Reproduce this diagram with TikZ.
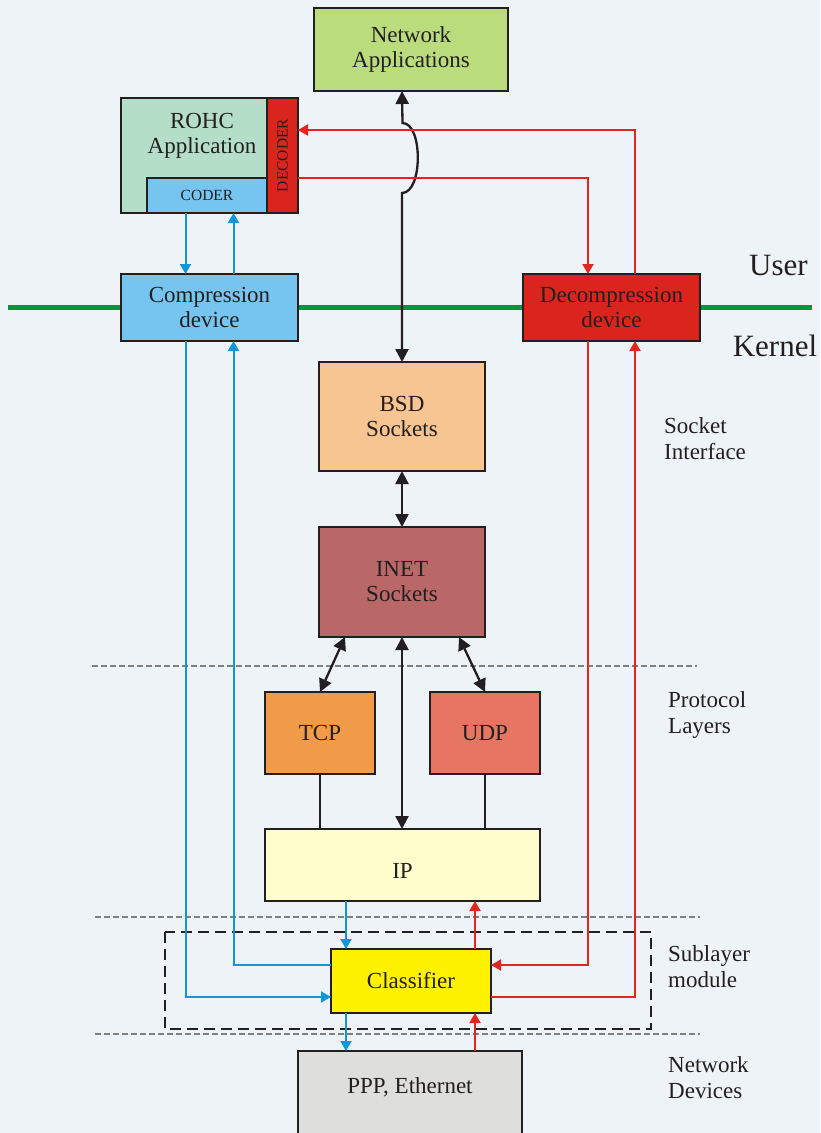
\documentclass[tikz,border=0pt]{standalone}
\usepackage{fontspec}
\setmainfont{Liberation Serif}
\usepackage{graphicx}
\usetikzlibrary{arrows.meta,calc}
\definecolor{ink}{HTML}{231F20}
\definecolor{bgc}{HTML}{EEF3F7}
\definecolor{nagreen}{HTML}{BBDC7C}
\definecolor{rohcgreen}{HTML}{B5DEC9}
\definecolor{lblue}{HTML}{76C5F0}
\definecolor{dred}{HTML}{DA251D}
\definecolor{bsdc}{HTML}{F6C592}
\definecolor{inetc}{HTML}{B96767}
\definecolor{tcpc}{HTML}{F09B47}
\definecolor{udpc}{HTML}{E67661}
\definecolor{ipc}{HTML}{FFFDCC}
\definecolor{clsc}{HTML}{FFF200}
\definecolor{pppc}{HTML}{DEDEDC}
\definecolor{linkblue}{HTML}{1296D9}
\definecolor{linkred}{HTML}{E2261D}
\definecolor{ugreen}{HTML}{00953F}
\definecolor{dashgray}{HTML}{808080}
\begin{document}
\begin{tikzpicture}[x=1pt,y=-1pt,
  box/.style={draw=ink, line width=1.6pt, inner sep=0pt, outer sep=0pt, align=center, text=ink, font=\fontsize{23}{25}\selectfont},
  bk/.style={draw=ink, line width=2.3pt, {Triangle[length=13pt,width=13pt]}-{Triangle[length=13pt,width=13pt]}},
  thin/.style={draw=ink, line width=1.3pt},
  bl/.style={draw=linkblue, line width=2pt, -{Triangle[length=10pt,width=11pt]}},
  rd/.style={draw=linkred, line width=2pt, -{Triangle[length=10pt,width=11pt]}},
  lab/.style={align=left, text=ink, inner sep=0pt, font=\fontsize{23}{26}\selectfont},
  sep/.style={draw=dashgray, line width=1.3pt, dash pattern=on 6pt off 3pt},
]
\fill[bgc] (0,0) rectangle (820,1133);
\useasboundingbox (0,0) rectangle (820,1133);

% user/kernel line
\draw[ugreen, line width=5pt] (8,307) -- (812,307);
\node[lab, font=\fontsize{31}{34}\selectfont] (user) at (778.5,265) {User};
\node[lab, font=\fontsize{31}{34}\selectfont] (kernel) at (775,346) {Kernel};

% separators
\draw[sep] (92,666) -- (697,666);
\draw[sep] (95,917) -- (700,917);
\draw[sep] (95,1034) -- (700,1034);
\draw[ink, line width=2pt, dash pattern=on 11pt off 6pt] (165,932) rectangle (651,1029);

% boxes
\node[box, fill=nagreen, minimum width=194pt, minimum height=83pt] (na) at (411,49.5) {Network\\Applications};
\node[box, fill=rohcgreen, minimum width=177pt, minimum height=115pt] (rohc) at (209.5,155.5) {};
\node[text=ink, align=center, inner sep=0pt, font=\fontsize{23}{25}\selectfont] (rohctext) at (202,136) {ROHC\\Application};
\node[box, fill=dred, minimum width=31pt, minimum height=115pt] (decoder) at (282.5,155.5) {\rotatebox{90}{\fontsize{15.5}{17}\selectfont DECODER}};
\node[box, fill=lblue, minimum width=120pt, minimum height=35pt, font=\fontsize{15.5}{17}\selectfont] (coder) at (207,195.5) {CODER};
\node[box, fill=lblue, minimum width=177pt, minimum height=67pt] (comp) at (209.5,307.5) {Compression\\device};
\node[box, fill=dred, minimum width=177pt, minimum height=67pt] (dec) at (611.5,307.5) {Decompression\\device};
\node[box, fill=bsdc, minimum width=166pt, minimum height=109pt] (bsd) at (402,416.5) {BSD\\Sockets};
\node[box, fill=inetc, minimum width=166pt, minimum height=110pt] (inet) at (402,582) {INET\\Sockets};
\node[box, fill=tcpc, minimum width=110pt, minimum height=82pt] (tcp) at (320,733) {TCP};
\node[box, fill=udpc, minimum width=110pt, minimum height=82pt] (udp) at (485,733) {UDP};
\node[box, fill=ipc, minimum width=275pt, minimum height=72pt, text height=26pt, text depth=0pt] (ip) at (402.5,865) {IP};
\node[box, fill=clsc, minimum width=160pt, minimum height=64pt] (cls) at (411,981) {Classifier};
\node[box, fill=pppc, minimum width=224pt, minimum height=92pt,
  label={[text=ink, font=\fontsize{23}{25}\selectfont, yshift=10pt]center:PPP, Ethernet}] (ppp) at (410,1097) {};

% right labels
\node[lab, anchor=west] (l1) at (664,439) {Socket\\Interface};
\node[lab, anchor=west] (l2) at (668,715) {Protocol\\Layers};
\node[lab, anchor=west] (l3) at (668,967) {Sublayer\\module};
\node[lab, anchor=west] (l4) at (668,1078) {Network\\Devices};

% black connectors
\draw[bk] (na.south -| bsd.north) -- (402.5,123) .. controls (423,123) and (423,193) .. (402,193) -- (bsd.north);
\draw[bk] (bsd.south) -- (inet.south |- inet.north);
\draw[bk] ([xshift=-57pt]inet.south) -- (tcp.north);
\draw[bk] ([xshift=57pt]inet.south) -- (udp.north);
\draw[bk] (inet.south) -- (inet.south |- ip.north);
\draw[thin] (tcp.south) -- (tcp.south |- ip.north);
\draw[thin] (udp.south) -- (udp.south |- ip.north);

% blue connectors
\draw[bl] ([xshift=-24pt]comp.north |- coder.south) -- ([xshift=-24pt]comp.north);
\draw[bl] ([xshift=24pt]comp.north) -- ([xshift=24pt]comp.north |- coder.south);
\draw[bl] ([xshift=-24pt]comp.south) |- ([yshift=-16pt]cls.west);
\draw[bl] ([yshift=16pt]cls.west) -| ([xshift=24pt]comp.south);
\draw[bl] ([xshift=-65pt]cls.north |- ip.south) -- ([xshift=-65pt]cls.north);
\draw[bl] ([xshift=-65pt]cls.south) -- ([xshift=-65pt]cls.south |- ppp.north);

% red connectors
\draw[rd] ([xshift=23.5pt]dec.north) |- ([yshift=25.5pt]decoder.east);
\draw[rd] ([yshift=-22.5pt]decoder.east) -| ([xshift=-23.5pt]dec.north);
\draw[rd] ([xshift=-23.5pt]dec.south) |- ([yshift=16pt]cls.east);
\draw[rd] ([yshift=-16pt]cls.east) -| ([xshift=23.5pt]dec.south);
\draw[rd] ([xshift=64pt]cls.north) -- ([xshift=64pt]cls.north |- ip.south);
\draw[rd] ([xshift=64pt]cls.south |- ppp.north) -- ([xshift=64pt]cls.south);
\end{tikzpicture}
\end{document}
